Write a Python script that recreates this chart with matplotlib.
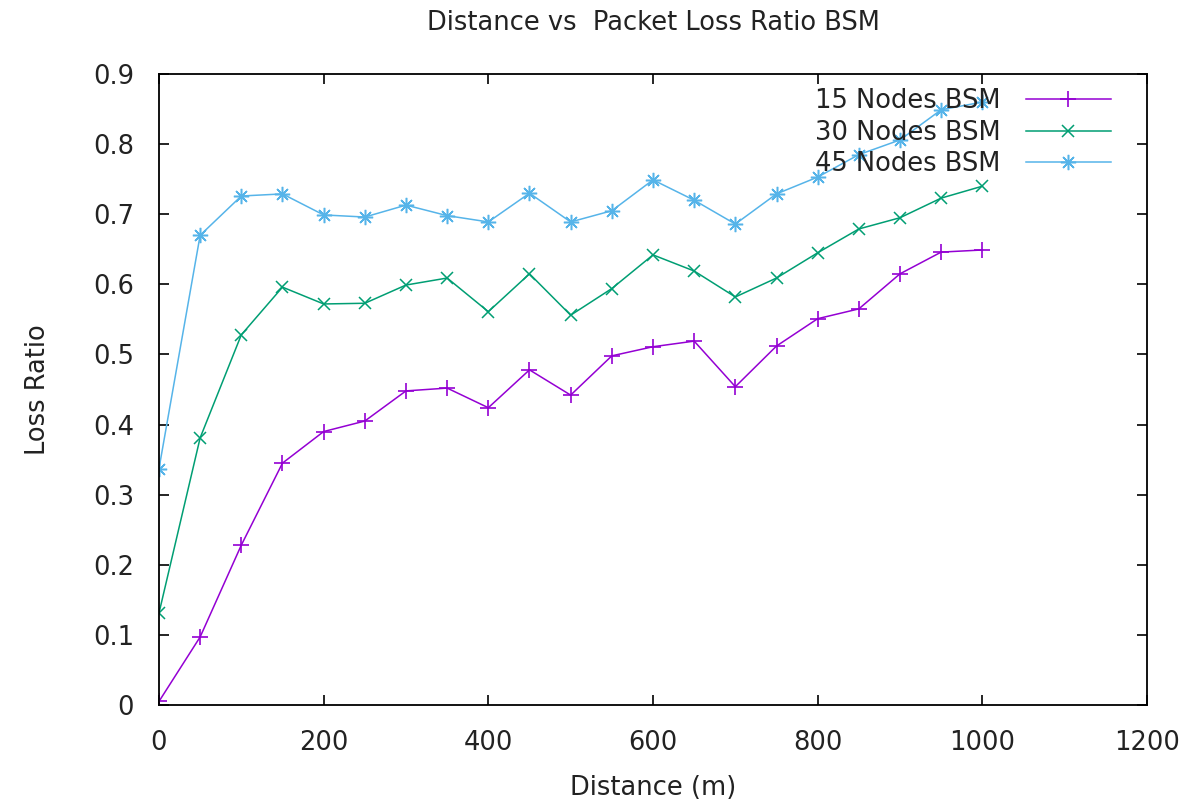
import numpy as np
import matplotlib
matplotlib.use("Agg")
import matplotlib.pyplot as plt

plt.rcParams["font.family"] = ["DejaVu Sans"]

distance = [0, 50, 100, 150, 200, 250, 300, 350, 400, 450, 500,
            550, 600, 650, 700, 750, 800, 850, 900, 950, 1000]
loss_15 = [0.005, 0.097, 0.228, 0.345, 0.390, 0.405, 0.448, 0.452, 0.424, 0.478, 0.442,
           0.498, 0.511, 0.519, 0.454, 0.512, 0.551, 0.565, 0.615, 0.646, 0.649]
loss_30 = [0.131, 0.381, 0.528, 0.596, 0.572, 0.573, 0.599, 0.609, 0.561, 0.615, 0.556,
           0.594, 0.642, 0.619, 0.582, 0.609, 0.645, 0.679, 0.695, 0.723, 0.740]
loss_45 = [0.337, 0.670, 0.726, 0.729, 0.699, 0.696, 0.713, 0.698, 0.689, 0.730, 0.689,
           0.705, 0.749, 0.720, 0.686, 0.729, 0.753, 0.785, 0.806, 0.849, 0.860]
labels = ["15 Nodes BSM", "30 Nodes BSM", "45 Nodes BSM"]

FS = 18.5

fig = plt.figure(figsize=(11.89, 8.02), dpi=100)
ax = fig.add_axes([0.1337, 0.121, 0.831, 0.7867])

ax.plot(distance, loss_15, color="#9400D3", lw=1.1, marker="+", ms=11, mew=1.2, label=labels[0])
ax.plot(distance, loss_30, color="#009E73", lw=1.1, marker="x", ms=9, mew=1.1, label=labels[1])
ax.plot(distance, loss_45, color="#56B4E9", lw=1.1, marker=(8, 2, 0), ms=11, mew=1.1, label=labels[2])

ax.set_xlim(0, 1200)
ax.set_ylim(0, 0.9)
ax.set_xticks(np.arange(0, 1201, 200))
ax.set_yticks(np.arange(0, 0.91, 0.1))
ax.set_yticklabels(["0"] + [f"{v:.1f}" for v in np.arange(0.1, 0.91, 0.1)])
ax.tick_params(direction="in", length=7, width=1.2, top=True, right=True,
               labelsize=FS, pad=18, labelcolor="#222222")
for s in ax.spines.values():
    s.set_linewidth(1.3)

ax.set_xlabel("Distance (m)", fontsize=FS, labelpad=14, color="#222222")
ax.set_ylabel("Loss Ratio", fontsize=FS, labelpad=30, color="#222222")
ax.set_title("Distance vs  Packet Loss Ratio BSM", fontsize=FS, pad=32, color="#222222")

leg = ax.legend(loc="upper right", bbox_to_anchor=(0.979, 1.002), frameon=False, markerfirst=False,
                fontsize=FS, handlelength=3.3, handletextpad=1.0, labelspacing=0.22,
                borderaxespad=0.2)
for t in leg.get_texts():
    t.set_color("#222222")

fig.savefig("out.png", dpi=100)
